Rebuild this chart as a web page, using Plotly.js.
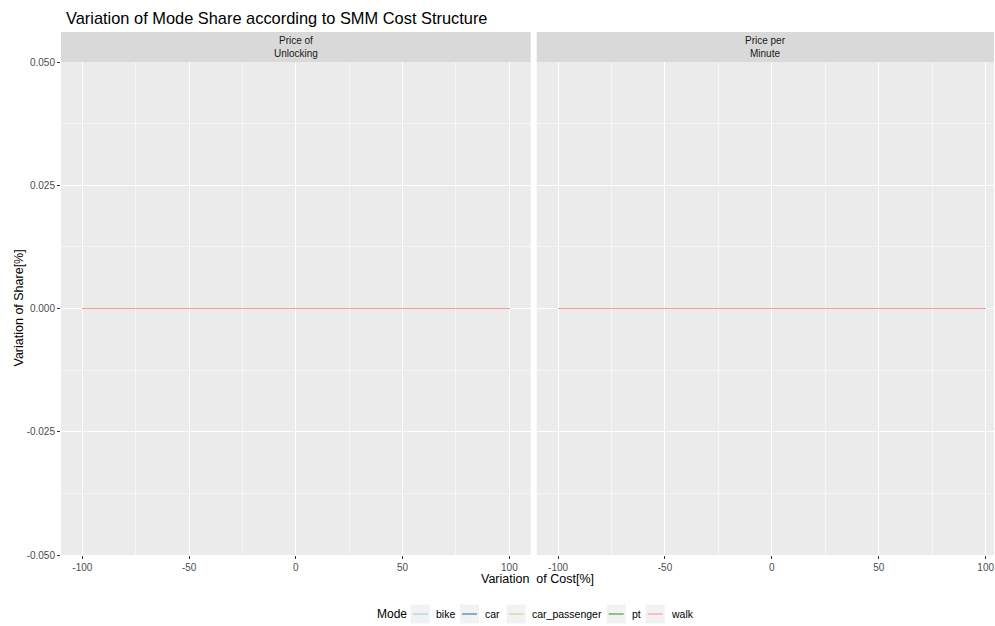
<!DOCTYPE html>
<html>
<head>
<meta charset="utf-8">
<script src="https://cdn.plot.ly/plotly-3.0.1.min.js"></script>
<style>html,body{margin:0;padding:0;background:#fff;}#chart{width:995px;height:626px;}</style>
</head>
<body>
<div id="chart"></div>
<script>
// ---- data ----
const modes = ["bike", "car", "car_passenger", "pt", "walk"];
const modeColors = ["#A6CEE3", "#1F78B4", "#B2DF8A", "#33A02C", "#FB9A99"];
const costVariation = [-100, -75, -50, -25, 0, 25, 50, 75, 100];
const panels = ["Price of<br>Unlocking", "Price per<br>Minute"];
// share variation per panel per mode (all zero)
const shareUnlocking = {
  bike:          [0, 0, 0, 0, 0, 0, 0, 0, 0],
  car:           [0, 0, 0, 0, 0, 0, 0, 0, 0],
  car_passenger: [0, 0, 0, 0, 0, 0, 0, 0, 0],
  pt:            [0, 0, 0, 0, 0, 0, 0, 0, 0],
  walk:          [0, 0, 0, 0, 0, 0, 0, 0, 0]
};
const shareMinute = {
  bike:          [0, 0, 0, 0, 0, 0, 0, 0, 0],
  car:           [0, 0, 0, 0, 0, 0, 0, 0, 0],
  car_passenger: [0, 0, 0, 0, 0, 0, 0, 0, 0],
  pt:            [0, 0, 0, 0, 0, 0, 0, 0, 0],
  walk:          [0, 0, 0, 0, 0, 0, 0, 0, 0]
};
const xTicks = [-100, -50, 0, 50, 100];
const yTicks = [-0.05, -0.025, 0, 0.025, 0.05];
const yTickText = ["-0.050", "-0.025", "0.000", "0.025", "0.050"];

// ---- build ----
const FONT = "Liberation Sans, Arial, sans-serif";
const traces = [];
[shareUnlocking, shareMinute].forEach((panelData, p) => {
  modes.forEach((m, i) => {
    traces.push({
      x: costVariation, y: panelData[m], type: "scatter", mode: "lines",
      line: {color: modeColors[i], width: 1},
      xaxis: p === 0 ? "x" : "x2", yaxis: "y",
      showlegend: false, hoverinfo: "skip"
    });
  });
});

const W = 995, H = 626;
const mL = 61, mR = 1, mT = 62, mB = 71;
const pw = W - mL - mR, ph = H - mT - mB;
const px = v => (v - mL) / pw;
const toPY = v => (H - mB - v) / ph;
const dom1 = [0, px(530.7)];
const dom2 = [px(536.7), 1];
const stripTop = 1 + 30 / ph;

const tickFont = {family: FONT, size: 10, color: "#4D4D4D"};
const xaxisBase = {
  tickvals: xTicks, ticktext: xTicks.map(String),
  ticks: "outside", ticklen: 3, tickcolor: "#333333", tickwidth: 1,
  tickfont: tickFont, showgrid: true, gridcolor: "#FFFFFF", gridwidth: 1,
  minor: {dtick: 25, tick0: -100, showgrid: true, gridcolor: "#FFFFFF", gridwidth: 0.5, ticks: ""},
  zeroline: false, showline: false, anchor: "y", fixedrange: true
};

const shapes = [];
const annotations = [];
[dom1, dom2].forEach((d, p) => {
  shapes.push({type: "rect", xref: "paper", yref: "paper", x0: d[0], x1: d[1], y0: 1, y1: stripTop,
    fillcolor: "#D9D9D9", line: {width: 0}, layer: "below"});
  annotations.push({xref: "paper", yref: "paper", x: (d[0] + d[1]) / 2, y: (1 + stripTop) / 2,
    text: panels[p], showarrow: false, xanchor: "center", yanchor: "middle",
    font: {family: FONT, size: 10, color: "#1A1A1A"}});
});

// axis titles
annotations.push({xref: "paper", yref: "paper", x: px(537.5), y: toPY(579), text: "Variation  of Cost[%]",
  showarrow: false, xanchor: "center", yanchor: "middle", font: {family: FONT, size: 12.5, color: "#000"}});
annotations.push({xref: "paper", yref: "paper", x: px(18), y: toPY(308.5), text: "Variation of Share[%]",
  showarrow: false, xanchor: "center", yanchor: "middle", textangle: -90,
  font: {family: FONT, size: 12.5, color: "#000"}});

// legend (ggplot style, bottom)
const legY = 614;
const keyX = [410.7, 460, 506.7, 606.7, 645.7];
annotations.push({xref: "paper", yref: "paper", x: px(374.5), y: toPY(legY), text: "Mode",
  showarrow: false, xanchor: "left", yanchor: "middle",
  font: {family: FONT, size: 12, color: "#000"}});
modes.forEach((m, i) => {
  const k0 = keyX[i], k1 = keyX[i] + 19;
  shapes.push({type: "rect", xref: "paper", yref: "paper", x0: px(k0), x1: px(k1),
    y0: toPY(legY + 9.5), y1: toPY(legY - 9.5), fillcolor: "#F2F2F2", line: {width: 0}});
  shapes.push({type: "line", xref: "paper", yref: "paper", x0: px(k0 + 2), x1: px(k1 - 2),
    y0: toPY(legY), y1: toPY(legY), line: {color: modeColors[i], width: 1.1}});
  annotations.push({xref: "paper", yref: "paper", x: px(k1 + 4), y: toPY(legY), text: m,
    showarrow: false, xanchor: "left", yanchor: "middle",
    font: {family: FONT, size: 10.5, color: "#000"}});
});

const layout = {
  width: W, height: H,
  margin: {l: mL, r: mR, t: mT, b: mB},
  paper_bgcolor: "#FFFFFF", plot_bgcolor: "#EBEBEB",
  showlegend: false,
  title: {text: "Variation of Mode Share according to SMM Cost Structure",
    x: 66 / W, xanchor: "left", y: 1 - 18 / H, yanchor: "middle",
    font: {family: FONT, size: 16.4, color: "#000"}},
  xaxis: Object.assign({}, xaxisBase, {domain: dom1, range: [-110, 110]}),
  xaxis2: Object.assign({}, xaxisBase, {domain: dom2, range: [-110, 100 + (994 - 985.7) / 2.135]}),
  yaxis: {
    domain: [0, 1], range: [-0.05, 0.05], tickvals: yTicks, ticktext: yTickText,
    ticks: "outside", ticklen: 3, tickcolor: "#333333", tickwidth: 1,
    tickfont: tickFont, showgrid: true, gridcolor: "#FFFFFF", gridwidth: 1,
    minor: {dtick: 0.0125, tick0: -0.05, showgrid: true, gridcolor: "#FFFFFF", gridwidth: 0.5, ticks: ""},
    zeroline: false, showline: false, fixedrange: true
  },
  shapes: shapes, annotations: annotations
};

Plotly.newPlot("chart", traces, layout, {staticPlot: true, displayModeBar: false});
</script>
</body>
</html>
